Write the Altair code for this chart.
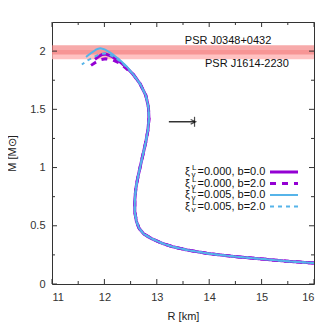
import altair as alt
import pandas as pd

# ---- data ----
common_R = [16.0, 15.5, 15.0, 14.5, 14.0, 13.6, 13.3, 13.1, 12.9, 12.75, 12.66, 12.61, 12.58, 12.58,
            12.6, 12.64, 12.69, 12.74, 12.79, 12.83, 12.85, 12.84, 12.79, 12.68, 12.55]
common_M = [0.18, 0.195, 0.215, 0.235, 0.26, 0.29, 0.32, 0.35, 0.39, 0.43, 0.48, 0.54, 0.62, 0.72,
            0.82, 0.92, 1.02, 1.12, 1.22, 1.32, 1.42, 1.52, 1.62, 1.72, 1.80]

top_R_x0_b0 = [12.42, 12.28, 12.14, 12.02, 11.95, 11.88, 11.82]
top_M_x0_b0 = [1.86, 1.915, 1.955, 1.975, 1.97, 1.95, 1.93]
top_R_x0_b2 = [12.42, 12.30, 12.15, 12.02, 11.92, 11.82, 11.72]
top_M_x0_b2 = [1.85, 1.895, 1.925, 1.935, 1.925, 1.90, 1.87]
top_R_x5_b0 = [12.42, 12.28, 12.12, 12.0, 11.92, 11.85, 11.75, 11.65]
top_M_x5_b0 = [1.87, 1.93, 1.985, 2.015, 2.025, 2.015, 1.985, 1.95]
top_R_x5_b2 = [12.42, 12.28, 12.14, 12.02, 11.92, 11.80, 11.68, 11.57]
top_M_x5_b2 = [1.865, 1.92, 1.96, 1.98, 1.975, 1.95, 1.92, 1.885]

series_names = ["x0b0", "x0b2", "x5b0", "x5b2"]
series_labels = ["=0.000, b=0.0", "=0.000, b=2.0", "=0.005, b=0.0", "=0.005, b=2.0"]
series_colors = ["#9400D3", "#9400D3", "#56B4E9", "#56B4E9"]
series_widths = [3, 3, 2, 2]
series_dash = [[1, 0], [6, 6], [1, 0], [4, 4]]

band_names = ["PSR J0348+0432", "PSR J1614-2230"]
band_lo = [1.97, 1.93]
band_hi = [2.05, 2.01]
band_label_R = [14.36, 14.72]
band_label_M = [2.085, 1.89]

arrow_R = [13.23, 13.72]
arrow_M = [1.393]

x_major = [11, 12, 13, 14, 15, 16]
x_minor = [11.5, 12.5, 13.5, 14.5, 15.5]
y_major = [0, 0.5, 1, 1.5, 2]
y_minor = [0.25, 0.75, 1.25, 1.75]

W, H = 262, 262
FONT = "Liberation Sans"
xs = alt.Scale(domain=[11, 16], nice=False, zero=False)
ys = alt.Scale(domain=[0, 2.25], nice=False, zero=False)

tops = [(top_R_x0_b0, top_M_x0_b0), (top_R_x0_b2, top_M_x0_b2),
        (top_R_x5_b0, top_M_x5_b0), (top_R_x5_b2, top_M_x5_b2)]

layers = []

# bands
bands = pd.DataFrame({"name": band_names, "lo": band_lo, "hi": band_hi})
layers.append(alt.Chart(bands.iloc[[1]]).mark_rect(color="#ffb3b3", opacity=0.8).encode(
    x=alt.value(0), x2=alt.value(W),
    y=alt.Y("lo:Q", scale=ys, axis=alt.Axis(values=y_major, labelExpr="'' + datum.value", title="M [M⊙]",
                                           domain=False, ticks=False, grid=False, labelFont=FONT,
                                           labelFontSize=11, labelColor="#333", labelPadding=7,
                                           titleFont=FONT, titleFontSize=11, titleFontWeight="normal",
                                           titleColor="#222", titlePadding=12)),
    y2="hi:Q"))
layers.append(alt.Chart(bands.iloc[[0]]).mark_rect(color="#f27d7d", opacity=0.65).encode(
    x=alt.value(0), x2=alt.value(W), y=alt.Y("lo:Q", scale=ys), y2="hi:Q"))

labels = pd.DataFrame({"t": band_names, "R": band_label_R, "M": band_label_M})
layers.append(alt.Chart(labels).mark_text(font=FONT, fontSize=11, color="#111").encode(
    x=alt.X("R:Q", scale=xs), y=alt.Y("M:Q", scale=ys), text="t:N"))

# curves
for i, name in enumerate(series_names):
    R = common_R + tops[i][0]
    M = common_M + tops[i][1]
    df = pd.DataFrame({"R": R, "M": M, "i": list(range(len(R)))})
    layers.append(alt.Chart(df).mark_line(color=series_colors[i], strokeWidth=series_widths[i],
                                          strokeDash=series_dash[i]).encode(
        x=alt.X("R:Q", scale=xs, axis=alt.Axis(values=x_major, title="R [km]", domain=False, ticks=False,
                                               grid=False, labelFont=FONT, labelFontSize=11,
                                               labelColor="#333", labelPadding=7, titleFont=FONT,
                                               titleFontSize=11, titleFontWeight="normal",
                                               titleColor="#222", titlePadding=8)),
        y=alt.Y("M:Q", scale=ys), order="i:Q"))

# arrow
arr = pd.DataFrame({"R": [arrow_R[0]], "R2": [arrow_R[1]], "M": arrow_M})
layers.append(alt.Chart(arr).mark_rule(color="black", strokeWidth=1.2).encode(
    x=alt.X("R:Q", scale=xs), x2="R2:Q", y=alt.Y("M:Q", scale=ys)))
layers.append(alt.Chart(arr).mark_point(shape="M-1,-0.6L0.3,0L-1,0.6", filled=False, color="black",
                                        size=60, strokeWidth=1.2).encode(
    x=alt.X("R2:Q", scale=xs), y=alt.Y("M:Q", scale=ys)))
layers.append(alt.Chart(arr).mark_tick(color="black", orient="vertical", size=10, thickness=1.2).encode(
    x=alt.X("R2:Q", scale=xs), y=alt.Y("M:Q", scale=ys)))

# inward ticks
def xt(vals, ln):
    d = pd.DataFrame({"v": vals})
    return [alt.Chart(d).mark_rule(color="#333", strokeWidth=1).encode(
                x=alt.X("v:Q", scale=xs), y=alt.value(H), y2=alt.value(H - ln)),
            alt.Chart(d).mark_rule(color="#333", strokeWidth=1).encode(
                x=alt.X("v:Q", scale=xs), y=alt.value(0), y2=alt.value(ln))]

def yt(vals, ln):
    d = pd.DataFrame({"v": vals})
    return [alt.Chart(d).mark_rule(color="#333", strokeWidth=1).encode(
                y=alt.Y("v:Q", scale=ys), x=alt.value(0), x2=alt.value(ln)),
            alt.Chart(d).mark_rule(color="#333", strokeWidth=1).encode(
                y=alt.Y("v:Q", scale=ys), x=alt.value(W), x2=alt.value(W - ln))]

layers += xt(x_major, 5) + xt(x_minor, 3) + yt(y_major, 5) + yt(y_minor, 3)

# legend
leg_y = [150, 161.5, 173, 184.5]
for i in range(4):
    yy = leg_y[i]
    one = pd.DataFrame({"a": [0]})
    layers.append(alt.Chart(one).mark_text(font=FONT, fontSize=11, align="left", baseline="middle",
                                           color="#111", text="ξ").encode(
        x=alt.value(133), y=alt.value(yy)))
    layers.append(alt.Chart(one).mark_text(font=FONT, fontSize=8, align="left", baseline="middle",
                                           color="#111", text="v").encode(
        x=alt.value(139.5), y=alt.value(yy + 3)))
    layers.append(alt.Chart(one).mark_text(font=FONT, fontSize=8, align="left", baseline="middle",
                                           color="#111", text="L").encode(
        x=alt.value(140), y=alt.value(yy - 4)))
    layers.append(alt.Chart(one).mark_text(font=FONT, fontSize=11, align="left", baseline="middle",
                                           color="#111", text=series_labels[i]).encode(
        x=alt.value(145.5), y=alt.value(yy)))
    layers.append(alt.Chart(one).mark_rule(color=series_colors[i], strokeWidth=series_widths[i],
                                           strokeDash=series_dash[i]).encode(
        x=alt.value(218), x2=alt.value(246), y=alt.value(yy)))

chart = alt.layer(*layers).properties(
    width=W, height=H,
    autosize=alt.AutoSizeParams(type="none"),
    padding={"left": 44, "top": 14, "right": 10, "bottom": 40},
).configure_view(stroke="#333", strokeWidth=1)

chart.save("out.html", embed_options={"renderer": "svg", "actions": False})
